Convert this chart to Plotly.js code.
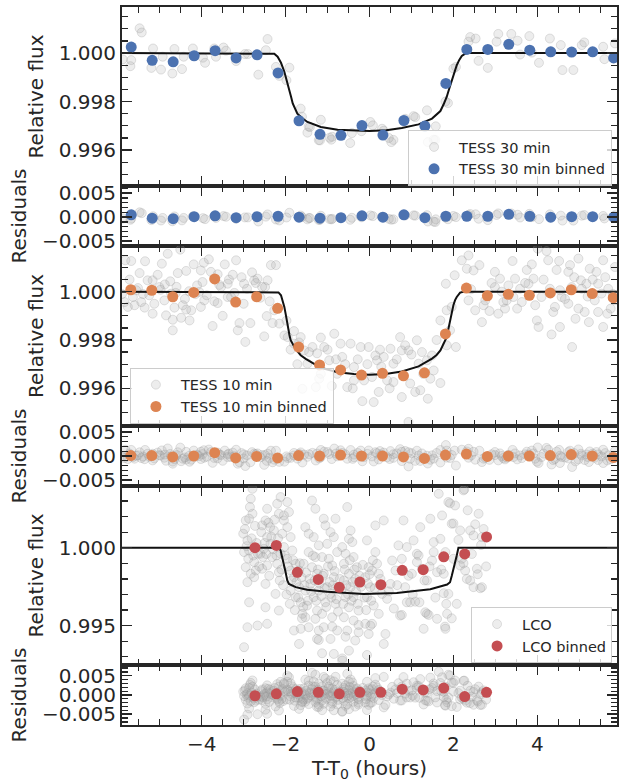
<!DOCTYPE html>
<html>
<head>
<meta charset="utf-8">
<script src="https://cdn.plot.ly/plotly-3.0.1.min.js"></script>
<style>html,body{margin:0;padding:0;background:#fff;}#chart{width:619px;height:782px;}</style>
</head>
<body>
<div id="chart"></div>
<script>
// ---------------- TESS 30 min (unbinned) ----------------
const t30 = [
-5.88,-5.68,-5.70,-5.48,-5.43,-5.16,-5.20,-4.97,-4.93,-4.70,
-4.65,-4.47,-4.43,-4.21,-3.97,-3.92,-3.70,-3.66,-3.48,-3.42,
-3.18,-2.97,-2.90,-2.65,-2.47,-2.43,-2.23,-2.15,-1.91,-1.98,
-1.64,-1.48,-1.42,-1.18,-1.16,-0.95,-0.91,-0.46,-0.42,-0.19,
0.02,0.08,0.30,0.52,0.85,1.09,1.37,1.39,1.58,1.53,
1.87,2.00,2.06,2.36,2.53,2.60,2.82,3.07,3.03,3.38,
3.53,3.59,3.81,3.87,4.04,4.30,4.56,4.60,4.86,5.06,
5.12,5.60,5.57,5.85,0.34,0.46,0.57,1.05,1.57,1.81,
-1.61,-1.45,-1.21,-0.89,2.40];
const f30 = [
0.99974,0.99971,0.99946,1.00102,1.00085,1.00019,0.99939,0.99932,0.99985,0.99916,
1.00017,0.99934,0.99985,1.00019,0.99981,0.99960,1.00019,0.99985,1.00023,1.00010,
0.99967,0.99996,0.99996,0.99911,1.00012,1.00058,0.99943,0.99906,0.99940,0.99888,
0.99771,0.99672,0.99695,0.99640,0.99725,0.99651,0.99643,0.99629,0.99670,0.99678,
0.99716,0.99702,0.99688,0.99633,0.99729,0.99736,0.99764,0.99633,0.99698,0.99643,
0.99794,0.99936,0.99943,1.00047,1.00060,0.99968,0.99939,1.00079,1.00047,1.00079,
1.00051,0.99994,1.00070,1.00002,0.99960,1.00060,1.00033,0.99930,0.99930,1.00033,
1.00044,0.99975,1.00026,1.00040,0.99680,0.99650,0.99642,0.99740,0.99642,0.99800,
0.99738,0.99697,0.99641,0.99655,1.00066];
const r30 = [
-0.00026,-0.00029,-0.00054,0.00102,0.00085,0.00019,-0.00061,-0.00068,-0.00015,-0.00084,
0.00017,-0.00066,-0.00015,0.00019,-0.00019,-0.00040,0.00019,-0.00015,0.00023,0.00010,
-0.00033,-0.00004,-0.00004,-0.00089,0.00012,0.00058,-0.00047,-0.00067,0.00093,-0.00006,
0.00034,-0.00044,-0.00017,-0.00056,0.00030,-0.00039,-0.00045,-0.00053,-0.00012,-0.00002,
0.00037,0.00023,0.00007,-0.00052,0.00036,0.00033,0.00043,-0.00089,-0.00044,-0.00093,
-0.00042,0.00025,0.00002,0.00047,0.00060,-0.00032,-0.00061,0.00079,0.00047,0.00079,
0.00051,-0.00006,0.00070,0.00002,-0.00040,0.00060,0.00033,-0.00070,-0.00070,0.00033,
0.00044,-0.00025,0.00026,0.00040,-0.00002,-0.00034,-0.00044,0.00039,-0.00099,-0.00007,
0.00004,-0.00017,-0.00057,-0.00033,0.00066];
// TESS 30 min binned
const tb30 = [-5.68,-5.18,-4.68,-4.18,-3.68,-3.18,-2.68,-2.18,-1.68,-1.18,-0.68,-0.18,0.32,0.82,1.32,1.82,2.32,2.82,3.32,3.82,4.32,4.82,5.32,5.82];
const fb30 = [1.00025,0.99970,0.99964,0.99989,1.00010,0.99980,0.99993,0.99918,0.99721,0.99665,0.99661,0.99701,0.99662,0.99722,0.99699,0.99875,1.00015,1.00015,1.00036,1.00012,1.00005,1.00004,1.00005,0.99980];
const rb30 = [0.0005,-0.0002,-0.0003,0.0001,0.0003,-0.0001,0.0001,0.0002,0.0000,-0.0002,-0.0001,0.0003,0.0000,0.0005,-0.0001,0.0002,0.0002,0.0002,0.0006,0.0002,0.0000,0.0001,0.0001,0.0000];
// TESS 30 min model
const tm30 = [-5.9,-2.35,-2.27,-2.19,-2.11,-2.03,-1.97,-1.91,-1.87,-1.83,-1.78,-1.72,-1.6,-1.48,-1.16,-0.76,0,0.4,0.77,1.17,1.49,1.6,1.69,1.77,1.84,1.9,1.96,2.02,2.08,2.14,2.2,2.3,5.9];
const fm30 = [1,1,0.99997,0.99985,0.9996,0.99923,0.99888,0.99847,0.9982,0.99792,0.9977,0.9975,0.99731,0.99716,0.99695,0.99684,0.99679,0.99682,0.99691,0.99706,0.9973,0.99745,0.99761,0.9979,0.99819,0.99853,0.99888,0.99922,0.9995,0.99972,0.99988,1,1];

// ---------------- TESS 10 min (unbinned) ----------------
const t10 = [
-4.51,-5.68,-5.35,-4.95,-5.48,-5.29,-5.17,-4.75,-5.01,-4.57,
-4.37,-4.19,-4.02,-3.95,-3.83,-3.78,-3.62,-3.45,-3.38,-3.54,
-2.99,-2.75,-2.67,-2.71,-2.43,-2.35,-2.23,-2.49,-4.11,-4.06,
-5.76,-5.60,-5.36,-5.13,-5.17,-4.89,-4.85,-4.69,-4.65,-4.49,
-4.45,-4.37,-4.25,-4.29,-4.02,-3.94,-3.74,-3.62,-3.38,-3.30,
-3.10,-3.14,-2.84,-2.96,-2.51,-2.45,-2.27,-2.31,-2.15,-2.03,
-1.95,-1.80,-1.64,-4.69,-1.80,-1.56,-1.48,-1.36,-1.16,-1.08,
-0.96,-0.84,-0.69,-0.65,-0.45,-0.37,-0.21,-1.60,-1.28,-0.17,
-0.13,-0.53,-1.16,-0.77,-0.37,-5.82,-4.81,-5.56,-5.84,-5.64,
-5.44,-4.73,-3.18,-0.02,0.14,0.18,0.34,0.50,0.57,0.73,
0.77,0.85,0.93,1.13,1.17,1.37,1.49,0.06,0.22,0.10,
0.42,0.57,0.77,0.97,1.09,1.21,1.39,1.53,1.69,0.93,
1.84,2.06,1.92,1.69,1.84,1.96,1.82,2.03,2.20,2.36,
2.32,2.48,2.52,2.36,2.68,2.72,2.91,2.99,3.11,3.23,
3.07,3.27,3.41,3.47,3.71,3.87,3.91,3.99,4.03,4.01,
4.22,4.26,4.38,4.34,4.52,4.54,4.58,4.74,4.78,4.83,
4.91,4.98,5.04,5.17,5.25,5.23,5.41,5.45,5.57,5.57,
5.67,5.85,5.85,2.76,3.19,3.43,3.63,3.95,4.10,4.42,
4.74,4.98,5.13,5.37,5.53,5.75,2.99,3.31,3.59,3.79,
4.30,4.54,4.82,5.06,5.45,5.69,-5.52,-5.25,-4.98,-4.62,
-4.30,-3.88,-3.58,-3.22,-2.92,-2.60,-3.05,-3.35,-1.72,-1.25,
-0.28,0.28,1.28,-0.90,
-5.90,-5.72,-5.40,-5.05,-4.88,-4.60,-4.40,-4.15,-3.98,-3.70,
-3.50,-3.26,-3.00,-2.80,-2.56,-2.38,-1.98,-1.88,-1.68,-1.44,
-1.20,-1.00,-0.80,-0.58,-0.40,-0.05,0.25,0.48,0.65,1.00,
1.25,1.45,1.60,2.42,2.62,2.86,3.15,3.52,3.75,4.15,
4.46,4.66,4.88,5.20,5.32,5.62,5.80];
const f10 = [
1.00174,1.00127,1.00126,1.00116,1.00077,1.00047,1.00047,1.00043,1.00019,1.00077,
1.00086,1.00113,1.00088,1.00120,1.00134,1.00082,1.00072,1.00113,1.00033,1.00019,
1.00033,1.00047,1.00054,1.00036,1.00047,1.00110,1.00110,1.00019,1.00026,0.99999,
0.99937,0.99944,0.99934,0.99950,0.99909,0.99964,0.99902,0.99884,0.99934,0.99892,
0.99944,0.99926,0.99923,0.99881,0.99937,0.99964,0.99858,0.99953,0.99978,0.99978,
0.99870,0.99840,0.99870,0.99792,0.99815,0.99899,0.99923,0.99870,0.99868,0.99819,
0.99812,0.99837,0.99812,0.99840,0.99785,0.99757,0.99702,0.99771,0.99810,0.99771,
0.99716,0.99826,0.99785,0.99730,0.99785,0.99688,0.99771,0.99598,0.99605,0.99547,
0.99633,0.99605,0.99660,0.99660,0.99633,1.00130,1.00157,1.00006,0.99957,0.99978,
0.99957,0.99992,1.00130,0.99771,0.99736,0.99716,0.99730,0.99764,0.99702,0.99812,
0.99757,0.99778,0.99757,0.99799,0.99702,0.99716,0.99736,0.99647,0.99585,0.99543,
0.99633,0.99626,0.99564,0.99620,0.99585,0.99592,0.99557,0.99674,0.99622,0.99461,
0.99778,0.99771,0.99840,0.99881,0.99923,0.99937,1.00033,1.00068,1.00130,1.00150,
1.00095,1.00088,0.99923,0.99964,0.99874,0.99944,1.00036,1.00082,1.00054,0.99930,
0.99909,0.99964,1.00127,1.00054,1.00036,1.00113,1.00054,0.99881,0.99854,1.00178,
1.00168,1.00130,0.99916,0.99823,1.00127,0.99854,0.99978,1.00082,1.00110,0.99771,
0.99888,1.00137,1.00047,1.00033,1.00095,0.99874,1.00082,0.99916,1.00130,0.99854,
0.99909,0.99964,1.00102,0.99964,0.99957,0.99978,0.99957,0.99944,0.99978,0.99937,
0.99950,0.99930,0.99916,0.99964,0.99992,0.99930,1.00019,1.00026,1.00012,1.00033,
1.00012,1.00006,1.00019,1.00012,1.00033,1.00012,1.00015,0.99985,1.00008,0.99995,
1.00002,0.99985,1.00028,0.99995,1.00012,0.99975,1.00060,1.00050,0.99700,0.99745,
0.99720,0.99690,0.99660,0.99610,
0.99990,1.00050,0.99990,1.00070,1.00030,1.00020,0.99970,0.99990,1.00040,0.99960,
0.99900,1.00070,0.99950,1.00080,1.00020,0.99960,0.99880,0.99760,0.99790,0.99750,
0.99640,0.99760,0.99720,0.99700,0.99600,0.99700,0.99760,0.99600,0.99720,0.99740,
0.99750,0.99640,0.99800,1.00010,1.00110,0.99920,1.00000,0.99930,1.00090,1.00050,
1.00090,0.99970,1.00060,0.99980,1.00050,1.00060,0.99990];
const r10 = [
0.00174,0.00127,0.00126,0.00116,0.00077,0.00047,0.00047,0.00043,0.00019,0.00077,
0.00086,0.00113,0.00088,0.00120,0.00134,0.00082,0.00072,0.00113,0.00033,0.00019,
0.00033,0.00047,0.00054,0.00036,0.00047,0.00110,0.00110,0.00019,0.00026,-0.00001,
-0.00063,-0.00056,-0.00066,-0.00050,-0.00091,-0.00036,-0.00098,-0.00116,-0.00066,-0.00108,
-0.00056,-0.00074,-0.00077,-0.00119,-0.00063,-0.00036,-0.00142,-0.00047,-0.00022,-0.00022,
-0.00130,-0.00160,-0.00130,-0.00208,-0.00185,-0.00101,-0.00077,-0.00130,-0.00122,-0.00118,
-0.00042,0.00063,0.00075,-0.00160,0.00011,0.00029,-0.00017,0.00065,0.00125,0.00090,
0.00040,0.00155,0.00119,0.00065,0.00124,0.00029,0.00113,-0.00134,-0.00093,-0.00110,
-0.00024,-0.00057,-0.00025,-0.00007,-0.00026,0.00130,0.00157,0.00006,-0.00043,-0.00022,
-0.00043,-0.00008,0.00130,0.00115,0.00079,0.00059,0.00071,0.00102,0.00038,0.00143,
0.00087,0.00104,0.00079,0.00110,0.00011,0.00006,0.00013,-0.00009,-0.00072,-0.00113,
-0.00027,-0.00038,-0.00106,-0.00059,-0.00101,-0.00102,-0.00156,-0.00055,-0.00135,-0.00217,
-0.00034,-0.00199,-0.00041,0.00124,0.00111,0.00022,0.00228,0.00113,0.00132,0.00150,
0.00095,0.00088,-0.00077,-0.00036,-0.00126,-0.00056,0.00036,0.00082,0.00054,-0.00070,
-0.00091,-0.00036,0.00127,0.00054,0.00036,0.00113,0.00054,-0.00119,-0.00146,0.00178,
0.00168,0.00130,-0.00084,-0.00177,0.00127,-0.00146,-0.00022,0.00082,0.00110,-0.00229,
-0.00112,0.00137,0.00047,0.00033,0.00095,-0.00126,0.00082,-0.00084,0.00130,-0.00146,
-0.00091,-0.00036,0.00102,-0.00036,-0.00043,-0.00022,-0.00043,-0.00056,-0.00022,-0.00063,
-0.00050,-0.00070,-0.00084,-0.00036,-0.00008,-0.00070,0.00019,0.00026,0.00012,0.00033,
0.00012,0.00006,0.00019,0.00012,0.00033,0.00012,0.00015,-0.00015,0.00008,-0.00005,
0.00002,-0.00015,0.00028,-0.00005,0.00012,-0.00025,0.00060,0.00050,-0.00055,0.00051,
0.00062,0.00032,-0.00042,-0.00063,
-0.00010,0.00050,-0.00010,0.00070,0.00030,0.00020,-0.00030,-0.00010,0.00040,-0.00040,
-0.00100,0.00070,-0.00050,0.00080,0.00020,-0.00040,-0.00008,-0.00039,0.00044,0.00036,
-0.00049,0.00082,0.00051,0.00037,-0.00060,0.00044,0.00102,-0.00062,0.00054,0.00060,
0.00053,-0.00078,0.00062,0.00010,0.00110,-0.00080,0.00000,-0.00070,0.00090,0.00050,
0.00090,-0.00030,0.00060,-0.00020,0.00050,0.00060,-0.00010];
// TESS 10 min binned
const tb10 = [-5.69,-5.19,-4.69,-4.19,-3.69,-3.19,-2.69,-2.19,-1.69,-1.19,-0.69,-0.19,0.31,0.81,1.31,1.81,2.31,2.81,3.31,3.81,4.31,4.81,5.31,5.81];
const fb10 = [1.00008,1.00006,0.99979,0.99997,1.00053,0.99957,0.99979,0.99931,0.99771,0.99697,0.99676,0.99655,0.99662,0.99652,0.99664,0.99825,1.00015,0.99983,0.99989,0.99985,0.99995,1.00008,0.99992,0.99975];
const rb10 = [0.0001,0.0001,-0.0002,0.0000,0.0007,-0.0004,-0.0001,-0.0004,0.0001,0.0000,0.0002,0.0000,0.0000,-0.0002,-0.0005,0.0002,0.0004,-0.0001,0.0000,0.0000,0.0001,0.0003,0.0000,-0.0003];
// TESS 10 min model
const tm10 = [-5.9,-2.23,-2.17,-2.11,-2.07,-2.03,-1.99,-1.95,-1.91,-1.88,-1.84,-1.80,-1.72,-1.64,-1.52,-1.40,-1.16,-0.76,-0.37,0,0.38,0.77,1.17,1.49,1.6,1.69,1.78,1.84,1.88,1.92,1.96,2.0,2.04,2.08,2.16,2.24,5.9];
const fm10 = [1,1,0.99997,0.99985,0.99965,0.99937,0.999,0.99854,0.99822,0.99799,0.99784,0.99774,0.99754,0.99737,0.99722,0.9971,0.99685,0.99667,0.99659,0.99656,0.99659,0.9967,0.99691,0.99723,0.99738,0.99757,0.9979,0.99812,0.99845,0.99881,0.99915,0.99944,0.99965,0.99978,0.99996,1,1];

// ---------------- LCO (unbinned) ----------------
const tL = [
-2.79,-2.83,-2.85,-2.79,-2.95,-2.87,-3.01,-2.91,-2.99,-2.87,
-2.95,-2.83,-2.91,-2.75,-2.87,-2.91,-2.99,-2.71,-2.67,-2.75,
-2.66,-2.60,-2.44,-2.48,-2.56,-2.37,-2.20,-2.12,-2.16,-2.04,
-2.28,-2.44,-2.36,-2.52,-2.32,-2.44,-2.56,-2.20,-2.48,-2.24,
-2.48,-2.16,-2.44,-2.16,-2.12,-1.96,-1.92,-2.04,-1.96,-2.08,
-1.88,-2.04,-1.84,-1.96,-1.76,-1.88,-1.68,-1.80,-1.68,-1.88,
-1.76,-1.64,-1.60,-1.80,-1.64,-1.68,-1.37,-1.29,-1.53,-1.45,
-1.33,-1.21,-1.45,-1.29,-1.13,-1.57,-1.37,-1.25,-1.41,-1.53,
-1.21,-1.33,-1.49,-1.25,-1.53,-1.29,-1.45,-1.21,-1.25,-1.09,
-0.81,-1.05,-0.93,-0.85,-1.01,-0.77,-0.97,-0.89,-1.09,-0.85,
-1.01,-0.77,-0.93,-1.05,-0.81,-1.13,-0.89,-1.09,-0.77,-0.93,
-0.85,-0.65,-0.53,-0.45,-0.49,-0.65,-0.41,-0.57,-0.38,-0.61,
-0.30,-0.49,-0.61,-0.34,-0.45,-0.57,-0.38,-0.49,-0.26,-0.61,
-0.38,-0.53,-0.26,-0.49,-0.34,-0.06,-0.02,-0.10,0.06,0.14,
0.18,0.22,0.34,0.14,0.02,0.30,-0.06,0.10,0.22,-0.10,
0.06,-0.02,0.38,0.34,0.50,0.69,0.81,0.77,0.85,0.89,
0.97,0.73,0.42,0.62,0.89,0.54,1.05,1.13,1.17,1.21,
1.01,1.25,1.33,1.37,1.45,1.53,1.49,1.29,1.61,1.13,
1.37,1.65,1.88,1.73,1.96,1.69,1.81,1.53,1.61,1.77,
2.00,1.85,1.81,1.88,2.08,2.24,2.04,2.16,2.40,2.20,
2.16,2.28,2.40,2.48,2.32,2.60,2.48,2.68,2.56,2.68,
2.66,2.64,1.80,1.77,2.24,1.96,1.41,0.77,1.09,-0.89,
-0.57,-0.06,-1.13,-0.65,-1.21,0.02,-0.26,-1.61,2.26,1.92,
2.00,
-2.97,-2.93,-2.89,-2.81,-2.77,-2.73,-2.69,-2.63,-2.58,-2.54,
-2.50,-2.46,-2.41,-2.39,-2.34,-2.30,-2.26,-2.22,-2.18,-2.14,
-2.10,-2.06,-2.02,-1.98,-1.94,-1.90,-1.86,-1.82,-1.78,-1.74,
-1.70,-1.66,-1.62,-1.58,-1.55,-1.51,-1.47,-1.43,-1.39,-1.35,
-1.31,-1.27,-1.23,-1.19,-1.15,-1.11,-1.07,-1.03,-0.99,-0.95,
-0.91,-0.87,-0.83,-0.79,-0.75,-0.71,-0.67,-0.63,-0.59,-0.55,
-0.51,-0.47,-0.43,-0.40,-0.36,-0.32,-0.28,-0.24,-0.20,-0.16,
-0.12,-0.08,-0.04,0.00,0.04,0.08,0.12,0.26,0.46,0.58,
0.66,0.93,1.03,1.19,1.31,1.43,1.57,1.71,1.83,2.12,
2.34,2.44,2.52,2.58,2.72,2.78];
const fL = [
1.00378,1.00314,1.00261,1.00218,1.00175,1.00186,1.00090,1.00047,0.99972,0.99982,
0.99875,0.99833,0.99779,0.99811,0.99650,0.99490,0.99362,0.99854,0.99501,0.99908,
0.99961,0.99961,1.00250,1.00175,1.00143,1.00132,1.00282,1.00325,1.00218,1.00207,
1.00111,1.00068,1.00025,0.99993,0.99940,0.99886,0.99865,0.99897,0.99768,0.99704,
0.99618,0.99597,0.99512,0.99843,0.99961,1.00293,1.00229,1.00175,1.00132,1.00090,
1.00068,1.00004,0.99982,0.99929,0.99897,0.99854,0.99854,0.99811,0.99747,0.99725,
0.99683,0.99650,0.99576,0.99469,0.99480,0.99383,1.00303,1.00250,1.00132,1.00090,
1.00068,1.00015,0.99972,0.99940,0.99940,0.99897,0.99875,0.99833,0.99768,0.99725,
0.99725,0.99683,0.99629,0.99597,0.99554,0.99544,0.99490,0.99469,0.99415,1.00186,
1.00186,1.00143,1.00100,1.00068,1.00025,0.99972,0.99929,0.99886,0.99833,0.99811,
0.99747,0.99747,0.99704,0.99650,0.99640,0.99576,0.99554,0.99490,0.99469,0.99415,
0.99319,0.99276,1.00261,1.00111,1.00057,1.00004,1.00036,0.99961,0.99940,0.99897,
0.99875,0.99833,0.99790,0.99800,0.99747,0.99683,0.99683,0.99618,0.99597,0.99554,
0.99533,0.99469,0.99458,0.99340,0.99405,1.00047,0.99875,0.99811,0.99854,0.99972,
0.99897,0.99833,1.00175,1.00143,0.99747,0.99704,0.99683,0.99629,0.99576,0.99512,
0.99512,0.99447,0.99447,0.99383,0.99768,1.00015,1.00175,0.99929,0.99747,0.99650,
0.99650,0.99565,0.99672,0.99854,1.00004,0.99918,1.00047,0.99961,0.99950,1.00132,
0.99833,0.99865,0.99586,0.99576,1.00186,1.00036,0.99918,0.99480,0.99544,0.99908,
0.99790,1.00346,1.00293,1.00207,1.00154,1.00057,0.99972,0.99972,0.99843,0.99833,
0.99929,0.99576,0.99480,0.99704,0.99640,1.00368,1.00271,1.00111,1.00111,0.99929,
0.99886,0.99854,0.99790,0.99747,0.99800,1.00218,1.00079,1.00068,0.99865,0.99747,
1.00017,0.99740,0.99494,0.99708,0.99900,0.99547,0.99569,0.99569,0.99654,0.99494,
0.99429,0.99312,0.99323,0.99290,0.99408,0.99500,0.99504,0.99547,1.00374,1.00285,
1.00156,
1.00120,1.00010,0.99930,1.00060,0.99950,1.00140,1.00030,0.99880,1.00100,0.99940,
1.00030,0.99960,1.00160,0.99820,1.00070,0.99990,1.00180,0.99950,1.00060,0.99790,
0.99860,0.99760,0.99950,0.99700,0.99880,0.99640,0.99790,0.99920,0.99600,0.99780,
0.99680,0.99900,0.99810,0.99620,0.99760,0.99840,0.99660,0.99800,0.99720,0.99950,
0.99790,0.99660,0.99860,0.99770,0.99690,0.99820,0.99740,0.99620,0.99880,0.99780,
0.99680,0.99760,0.99850,0.99670,0.99590,0.99800,0.99730,0.99640,0.99860,0.99760,
0.99700,0.99920,0.99660,0.99780,0.99860,0.99720,0.99640,0.99820,0.99750,0.99890,
0.99680,0.99600,0.99770,0.99830,0.99660,0.99920,0.99740,0.99800,0.99720,0.99610,
0.99760,0.99820,0.99700,0.99650,0.99790,0.99880,0.99680,0.99860,0.99640,1.00050,
1.00240,0.99960,1.00150,0.99830,1.00120,0.99880];
const rL = [
0.00378,0.00314,0.00261,0.00218,0.00175,0.00186,0.00090,0.00047,-0.00028,-0.00018,
-0.00125,-0.00167,-0.00221,-0.00189,-0.00350,-0.00510,-0.00638,-0.00146,-0.00499,-0.00092,
-0.00039,-0.00039,0.00250,0.00175,0.00143,0.00132,0.00282,0.00342,0.00218,0.00310,
0.00111,0.00068,0.00025,-0.00007,-0.00060,-0.00114,-0.00135,-0.00103,-0.00232,-0.00296,
-0.00382,-0.00403,-0.00488,-0.00157,-0.00022,0.00503,0.00461,0.00278,0.00342,0.00150,
0.00305,0.00107,0.00223,0.00139,0.00150,0.00090,0.00110,0.00059,0.00003,-0.00039,
-0.00064,-0.00094,-0.00167,-0.00283,-0.00264,-0.00361,0.00578,0.00527,0.00400,0.00362,
0.00343,0.00294,0.00244,0.00215,0.00222,0.00166,0.00149,0.00111,0.00042,-0.00007,
0.00005,-0.00043,-0.00101,-0.00124,-0.00176,-0.00181,-0.00237,-0.00252,-0.00306,0.00469,
0.00473,0.00426,0.00384,0.00353,0.00308,0.00259,0.00213,0.00170,0.00116,0.00096,
0.00030,0.00033,-0.00012,-0.00067,-0.00075,-0.00142,-0.00162,-0.00227,-0.00245,-0.00300,
-0.00396,-0.00436,0.00551,0.00402,0.00347,0.00292,0.00327,0.00251,0.00232,0.00187,
0.00168,0.00124,0.00080,0.00093,0.00038,-0.00026,-0.00025,-0.00090,-0.00110,-0.00155,
-0.00174,-0.00239,-0.00249,-0.00368,-0.00302,0.00343,0.00171,0.00107,0.00150,0.00268,
0.00193,0.00129,0.00470,0.00439,0.00043,-0.00001,-0.00021,-0.00075,-0.00129,-0.00192,
-0.00192,-0.00257,-0.00259,-0.00322,0.00061,0.00306,0.00465,0.00219,0.00036,-0.00062,
-0.00063,-0.00145,-0.00034,0.00145,0.00293,0.00211,0.00332,0.00244,0.00232,0.00413,
0.00119,0.00144,-0.00141,-0.00152,0.00452,0.00300,0.00183,-0.00246,-0.00194,0.00191,
0.00062,0.00604,0.00525,0.00460,0.00320,0.00312,0.00214,0.00236,0.00101,0.00080,
0.00090,-0.00188,-0.00278,-0.00066,-0.00310,0.00368,0.00374,0.00111,0.00111,-0.00071,
-0.00114,-0.00146,-0.00210,-0.00253,-0.00200,0.00218,0.00079,0.00068,-0.00135,-0.00253,
0.00017,-0.00260,-0.00264,-0.00050,-0.00100,-0.00290,-0.00164,-0.00142,-0.00068,-0.00224,
-0.00282,-0.00392,-0.00395,-0.00422,-0.00312,-0.00204,-0.00201,-0.00187,0.00374,0.00506,
0.00316,
0.00120,0.00010,-0.00070,0.00060,-0.00050,0.00140,0.00030,-0.00120,0.00100,-0.00060,
0.00030,-0.00040,0.00160,-0.00180,0.00070,-0.00010,0.00180,-0.00050,0.00060,-0.00210,
-0.00100,-0.00160,0.00080,-0.00117,0.00100,-0.00126,0.00030,0.00170,-0.00148,0.00034,
-0.00064,0.00158,0.00070,-0.00119,0.00022,0.00109,-0.00070,0.00071,-0.00008,0.00223,
0.00063,-0.00066,0.00135,0.00047,-0.00032,0.00101,0.00022,-0.00098,0.00163,0.00063,
-0.00036,0.00044,0.00134,-0.00046,-0.00126,0.00085,0.00015,-0.00075,0.00146,0.00046,
-0.00014,0.00207,-0.00049,0.00071,0.00151,0.00011,-0.00069,0.00112,0.00042,0.00184,
-0.00025,-0.00105,0.00066,0.00126,-0.00044,0.00216,0.00036,0.00096,0.00014,-0.00097,
0.00051,0.00108,-0.00018,-0.00072,0.00060,0.00147,-0.00062,0.00107,-0.00122,0.00050,
0.00240,-0.00040,0.00150,-0.00170,0.00120,-0.00120];
// LCO binned
const tbL = [-2.73,-2.22,-1.72,-1.22,-0.72,-0.23,0.27,0.78,1.28,1.77,2.27,2.79];
const fbL = [1.00000,1.00015,0.99842,0.99797,0.99746,0.99780,0.99763,0.99855,0.99859,0.99942,0.99960,1.00069];
const rbL = [-0.0002,0.0003,0.0009,0.0007,0.0003,0.0007,0.0007,0.0015,0.0013,0.0018,-0.0004,0.0007];
// LCO model
const tmL = [-5.9,-2.16,-2.12,-2.08,-2.04,-2.0,-1.96,-1.92,-1.76,-1.49,-1.01,-0.14,0.65,1.45,1.85,1.92,1.96,2.0,2.04,2.08,2.12,5.9];
const fmL = [1,1,0.99983,0.9994,0.99897,0.99843,0.9979,0.99768,0.99747,0.9973,0.99717,0.99704,0.99709,0.99734,0.99764,0.99779,0.99818,0.99858,0.99897,0.9995,1,1];

// ---------------- styling ----------------
const C = '#262626';
const FAM = 'DejaVu Sans, Liberation Sans, sans-serif';
const BLUE = '#4C72B0', ORANGE = '#DD8452', RED = '#C44E52';
const grayMarker = {size: 9, color: 'rgba(160,160,160,0.19)', line: {color: 'rgba(150,150,150,0.28)', width: 1}};
function binMarker(c){ return {size: 11, color: c, line: {width: 0}}; }

function gray(x, y, n, name, leg, show){
  return {type:'scatter', mode:'markers', x:x, y:y, xaxis:'x'+(n>1?n:''), yaxis:'y'+(n>1?n:''),
    marker: grayMarker, name: name||'', legend: leg, showlegend: !!show, hoverinfo:'skip'};
}
function binned(x, y, n, c, name, leg, show){
  return {type:'scatter', mode:'markers', x:x, y:y, xaxis:'x'+(n>1?n:''), yaxis:'y'+(n>1?n:''),
    marker: binMarker(c), name: name||'', legend: leg, showlegend: !!show, hoverinfo:'skip'};
}
function model(x, y, n){
  return {type:'scatter', mode:'lines', x:x, y:y, xaxis:'x'+(n>1?n:''), yaxis:'y'+(n>1?n:''),
    line:{color:'#111111', width:2}, showlegend:false, hoverinfo:'skip'};
}

const traces = [
  gray(t30, f30, 1, 'TESS 30 min', 'legend', true),
  model(tm30, fm30, 1),
  binned(tb30, fb30, 1, BLUE, 'TESS 30 min binned', 'legend', true),
  gray(t30, r30, 2),
  binned(tb30, rb30, 2, BLUE),
  gray(t10, f10, 3, 'TESS 10 min', 'legend2', true),
  model(tm10, fm10, 3),
  binned(tb10, fb10, 3, ORANGE, 'TESS 10 min binned', 'legend2', true),
  gray(t10, r10, 4),
  binned(tb10, rb10, 4, ORANGE),
  gray(tL, fL, 5, 'LCO', 'legend3', true),
  model(tmL, fmL, 5),
  binned(tbL, fbL, 5, RED, 'LCO binned', 'legend3', true),
  gray(tL, rL, 6),
  binned(tbL, rbL, 6, RED)
];

const doms = [[0.7507,1],[0.6671,0.7507],[0.4164,0.6671],[0.3329,0.4164],[0.0836,0.3329],[0,0.0836]];
const yranges = [[0.99452,1.0019],[-0.006,0.0065],[0.99444,1.00189],[-0.00625,0.00625],[0.99248,1.00396],[-0.0078,0.0078]];
const ytick0 = [0.996,0,0.996,0,0.995,0];
const ydtick = [0.002,0.005,0.002,0.005,0.005,0.005];
const yminor = [0.0005,0.001,0.0005,0.001,0.001,0.001];
const ytitle = ['Relative flux','Residuals','Relative flux','Residuals','Relative flux','Residuals'];

const tickfont = {family: FAM, size: 20, color: C};
const legFont = {family:FAM, size:14.5, color:C};
const legBase = {bgcolor:'rgba(255,255,255,0.8)', bordercolor:'#cccccc', borderwidth:1, font:legFont, itemwidth:40};
const layout = {
  width: 619, height: 782,
  margin: {l:122, r:2, t:7, b:57},
  paper_bgcolor:'#ffffff', plot_bgcolor:'#ffffff',
  hovermode: false,
  font: {family: FAM, color: C},
  legend: Object.assign({x:0.99, xanchor:'right', y:0.7507, yanchor:'bottom'}, legBase),
  legend2: Object.assign({x:0.016, xanchor:'left', y:0.4196, yanchor:'bottom'}, legBase),
  legend3: Object.assign({x:0.99, xanchor:'right', y:0.0862, yanchor:'bottom'}, legBase)
};
for (let i = 0; i < 6; i++) {
  const n = i + 1, sfx = n > 1 ? n : '';
  const xa = {
    domain:[0,1], anchor:'y'+sfx, range:[-5.9,5.9],
    ticks:'inside', ticklen:10, tickwidth:1.5, tickcolor:C, tick0:0, dtick:2,
    minor:{dtick:0.5, tick0:0, ticks:'inside', ticklen:6, tickwidth:1.2, tickcolor:C, showgrid:false},
    showline:true, linewidth:2, linecolor:C, mirror:'allticks',
    showgrid:false, zeroline:false, showticklabels: n === 6, tickfont: tickfont
  };
  if (n === 6) xa.title = {text:'T-T<sub>0</sub> (hours)', font:{family:FAM, size:20, color:C}, standoff:8};
  layout['xaxis' + sfx] = xa;
  layout['yaxis' + sfx] = {
    domain: doms[i], anchor:'x'+sfx, range: yranges[i],
    ticks:'inside', ticklen:10, tickwidth:1.5, tickcolor:C, tick0: ytick0[i], dtick: ydtick[i], tickformat:'.3f',
    minor:{dtick: yminor[i], tick0:0, ticks:'inside', ticklen:6, tickwidth:1.2, tickcolor:C, showgrid:false},
    showline:true, linewidth:2, linecolor:C, mirror:'allticks',
    showgrid:false, zeroline:false, tickfont: tickfont, automargin:false,
    title: {text: ytitle[i], font:{family:FAM, size:20, color:C}, standoff:10}
  };
}
Plotly.newPlot('chart', traces, layout, {staticPlot:true, displayModeBar:false});
</script>
</body>
</html>
